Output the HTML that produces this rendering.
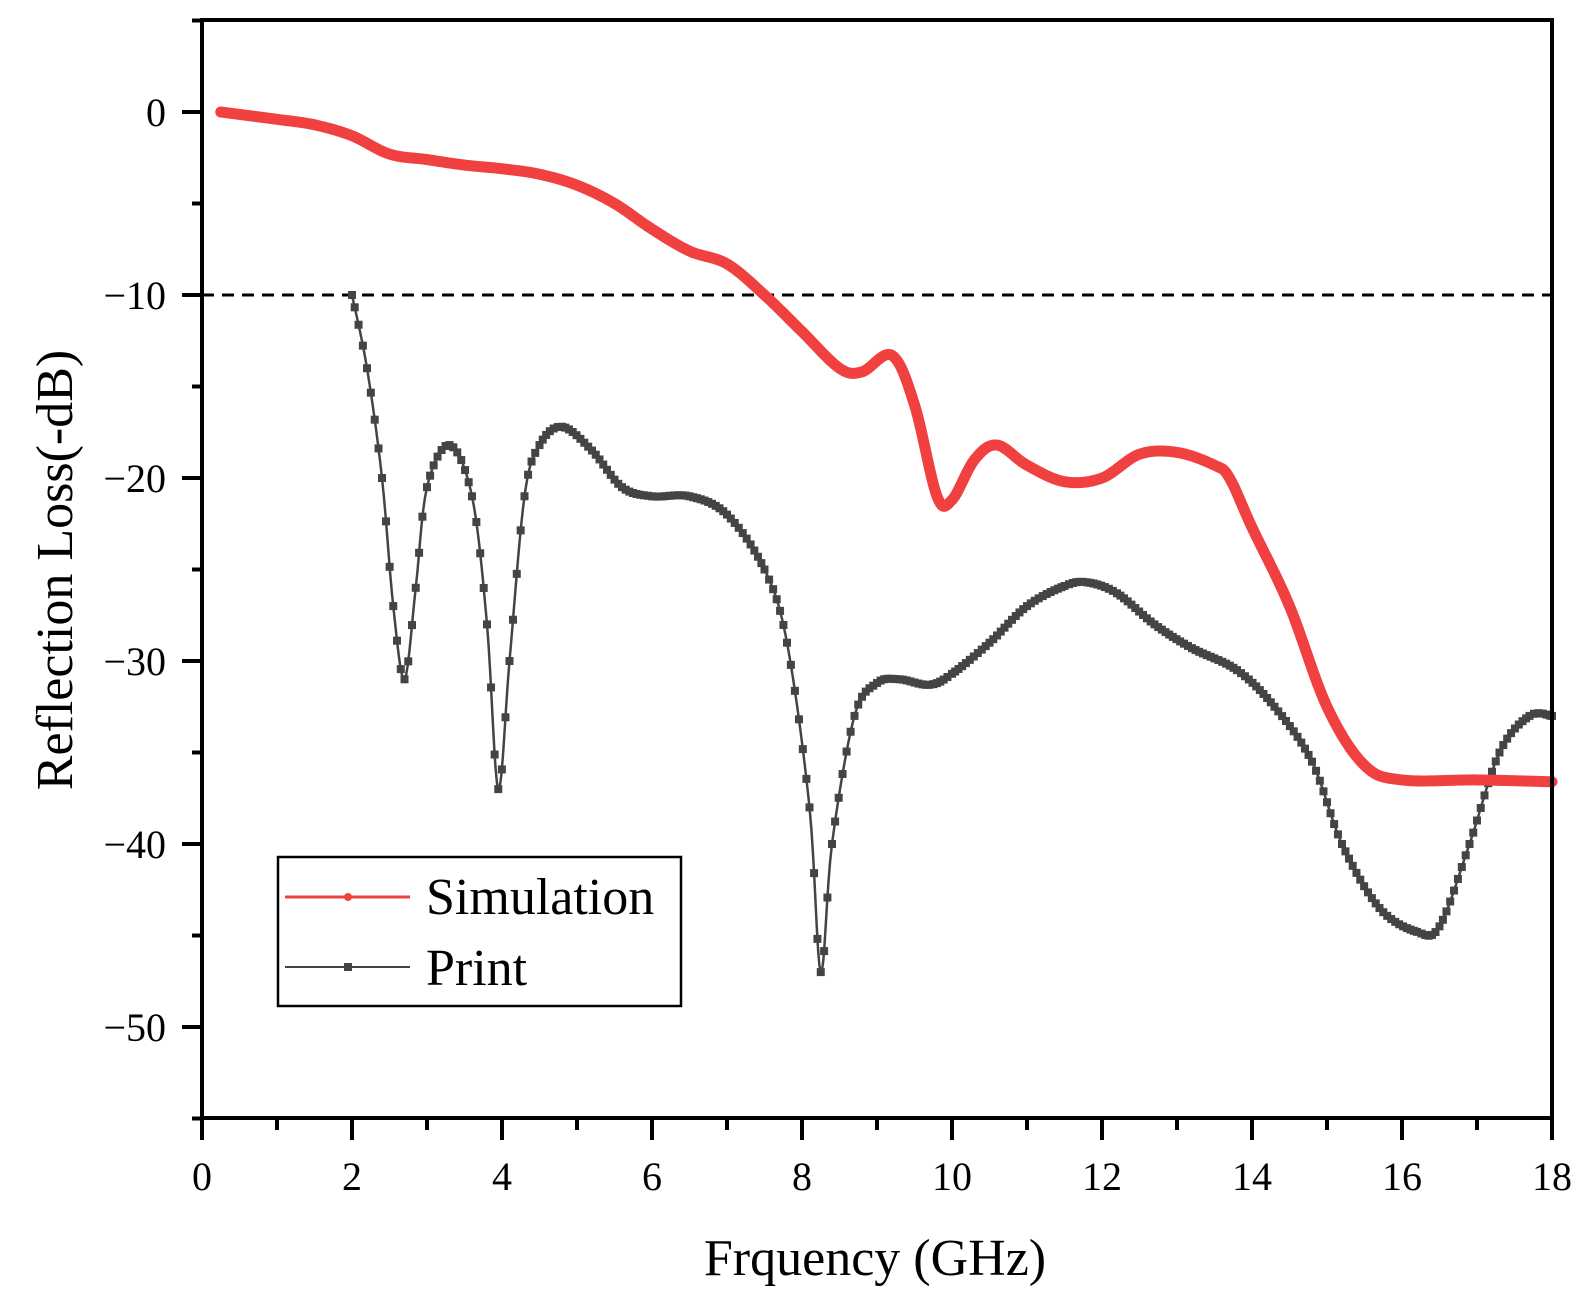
<!DOCTYPE html>
<html><head><style>
body{margin:0;background:#fff;}
svg text{font-family:"Liberation Serif",serif;fill:#000;}
</style></head><body>
<svg id="s" width="1595" height="1303" xmlns="http://www.w3.org/2000/svg">
<g id="plot"></g>
<rect x="202" y="20" width="1350" height="1098" fill="none" stroke="#000" stroke-width="4"/>
<g id="ticks" stroke="#000" stroke-width="4"></g>
<g font-size="40" text-anchor="end" id="ylab"></g>
<g font-size="40" text-anchor="middle" id="xlab"></g>
<text x="875" y="1275" font-size="52" text-anchor="middle">Frquency (GHz)</text>
<text transform="translate(72,570) rotate(-90)" font-size="52" text-anchor="middle">Reflection Loss(-dB)</text>
<rect x="278" y="857" width="403" height="149" fill="#fff" stroke="#000" stroke-width="2.5"/>
<line x1="285" y1="897" x2="410" y2="897" stroke="#f04040" stroke-width="3"/>
<circle cx="348" cy="897" r="4" fill="#f04040"/>
<text x="426" y="914" font-size="52">Simulation</text>
<line x1="285" y1="967" x2="410" y2="967" stroke="#444" stroke-width="2"/>
<rect x="344" y="963" width="8" height="8" fill="#444"/>
<text x="426" y="985" font-size="52">Print</text>
</svg>
<script>
const X=f=>202+f*75, Y=d=>112-d*18.3;
const NS="http://www.w3.org/2000/svg";
function el(p,t,a){const e=document.createElementNS(NS,t);for(const k in a)e.setAttribute(k,a[k]);p.appendChild(e);return e;}
const tk=document.getElementById('ticks'),yl=document.getElementById('ylab'),xl=document.getElementById('xlab');
for(let i=0;i<=18;i++){const x=X(i);el(tk,'line',{x1:x,y1:1118,x2:x,y2:i%2?1130:1140});
 if(i%2==0){const t=el(xl,'text',{x:x,y:1190});t.textContent=i;}}
for(let d=5;d>=-55;d-=5){const y=Y(d);el(tk,'line',{x1:202,y1:y,x2:d%10?192:182,y2:y});
 if(d%10==0&&d>-55){const t=el(yl,'text',{x:166,y:y+14});t.textContent=d==0?'0':'\u2212'+(-d);}}
function interp(pts,step){const out=[];for(let i=0;i<pts.length-1;i++){const p0=pts[Math.max(i-1,0)],p1=pts[i],p2=pts[i+1],p3=pts[Math.min(i+2,pts.length-1)];
 const n=Math.max(2,Math.round((p2[0]-p1[0])/step));for(let j=0;j<n;j++){const t=j/n,t2=t*t,t3=t2*t;
 const f=k=>0.5*((2*p1[k])+(-p0[k]+p2[k])*t+(2*p0[k]-5*p1[k]+4*p2[k]-p3[k])*t2+(-p0[k]+3*p1[k]-3*p2[k]+p3[k])*t3);out.push([f(0),f(1)]);}}
 out.push(pts[pts.length-1]);return out;}
const red=[[0.25,0],[1,-0.4],[1.5,-0.7],[2,-1.3],[2.5,-2.3],[3,-2.6],[3.5,-2.9],[4,-3.1],[4.5,-3.4],[5,-4],[5.5,-5],[6,-6.4],[6.5,-7.6],[7,-8.3],[7.5,-10],[8,-12],[8.5,-14],[8.8,-14.2],[9.2,-13.3],[9.5,-16],[9.8,-21],[10,-21.2],[10.3,-19],[10.6,-18.2],[11,-19.3],[11.5,-20.2],[12,-20],[12.5,-18.7],[13,-18.6],[13.5,-19.3],[13.7,-20],[14,-22.7],[14.5,-27],[15,-32.5],[15.5,-35.7],[16,-36.5],[17,-36.5],[18,-36.6]];
const pr=[[2,-10],[2.2,-14],[2.4,-20],[2.55,-27],[2.7,-31],[2.85,-26],[3,-20.5],[3.3,-18.2],[3.6,-21],[3.8,-28],[3.95,-37],[4.1,-30],[4.3,-21],[4.5,-18.2],[4.8,-17.2],[5.2,-18.5],[5.6,-20.5],[6,-21],[6.5,-21],[7,-22],[7.5,-25],[7.8,-29],[8.1,-38],[8.25,-47],[8.4,-40],[8.7,-33],[9,-31.2],[9.3,-31],[9.7,-31.3],[10,-30.7],[10.5,-29],[11,-27],[11.5,-25.9],[11.8,-25.7],[12.2,-26.3],[12.7,-28],[13.2,-29.3],[13.8,-30.5],[14.3,-32.5],[14.8,-35.5],[15.2,-40],[15.7,-43.5],[16.2,-44.8],[16.5,-44.5],[16.9,-40],[17.3,-35],[17.7,-33],[18,-33]];
const g=document.getElementById('plot');
el(g,'line',{x1:202,y1:Y(-10),x2:1552,y2:Y(-10),stroke:'#000','stroke-width':3,'stroke-dasharray':'12,8'});
const pp=interp(pr,0.02);
el(g,'polyline',{points:pp.map(p=>X(p[0])+','+Y(p[1])).join(' '),fill:'none',stroke:'#444','stroke-width':2.5});
const mk=interp(pr,0.05);
mk.forEach(p=>el(g,'rect',{x:X(p[0])-4,y:Y(p[1])-4,width:8,height:8,fill:'#444'}));
const rp=interp(red,0.02);
el(g,'polyline',{points:rp.map(p=>X(p[0])+','+Y(p[1])).join(' '),fill:'none',stroke:'#f04040','stroke-width':11,'stroke-linejoin':'round','stroke-linecap':'round'});
</script>
</body></html>
